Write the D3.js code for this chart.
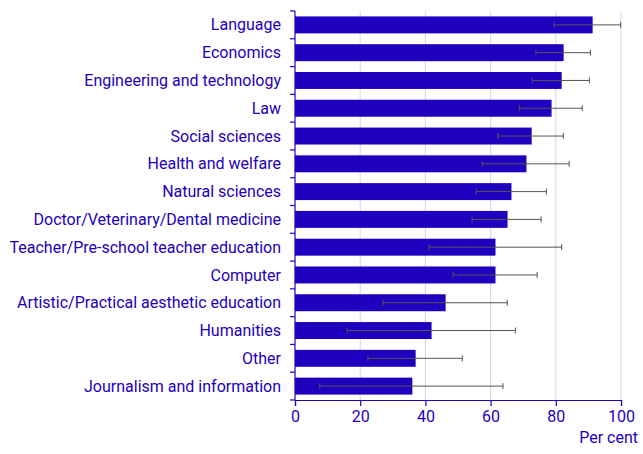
<!DOCTYPE html>
<html>
<head>
<meta charset="utf-8">
<script src="https://cdn.jsdelivr.net/npm/d3@7"></script>
<style>
  body { margin: 0; background: #fff; }
  text { font-family: Roboto, "Noto Sans", sans-serif; }
</style>
</head>
<body>
<div id="chart"></div>
<script>
const WIDTH = 643;
const HEIGHT = 454;
const MARGIN = { top: 11, right: 22, bottom: 54, left: 295 };
const BLUE = "#1e00be";

const categories = [
  "Language", "Economics", "Engineering and technology", "Law",
  "Social sciences", "Health and welfare", "Natural sciences",
  "Doctor/Veterinary/Dental medicine", "Teacher/Pre-school teacher education",
  "Computer", "Artistic/Practical aesthetic education", "Humanities",
  "Other", "Journalism and information"
];
const values = [91.3, 82.4, 81.8, 78.7, 72.6, 71.0, 66.4, 65.2, 61.5, 61.5, 46.2, 41.9, 37.0, 36.0];
const lower = [79.5, 73.9, 72.8, 68.8, 62.2, 57.4, 55.6, 54.3, 41.1, 48.5, 27.0, 16.0, 22.4, 7.6];
const upper = [99.9, 90.6, 90.3, 88.1, 82.3, 84.1, 77.1, 75.5, 81.8, 74.3, 65.1, 67.6, 51.3, 63.8];
const xTicks = [0, 20, 40, 60, 80, 100];

const data = categories.map((c, i) => ({ name: c, value: values[i], lo: lower[i], hi: upper[i] }));

const svg = d3.select("#chart").append("svg")
  .attr("width", WIDTH)
  .attr("height", HEIGHT);

const x = d3.scaleLinear()
  .domain([0, 100])
  .range([MARGIN.left, WIDTH - MARGIN.right]);

const y = d3.scaleBand()
  .domain(categories)
  .range([MARGIN.top, HEIGHT - MARGIN.bottom])
  .paddingInner(0.39)
  .paddingOuter(0.195);

// gridlines
svg.append("g")
  .selectAll("line")
  .data(xTicks.filter(d => d > 0))
  .enter()
  .append("line")
  .attr("x1", d => x(d))
  .attr("x2", d => x(d))
  .attr("y1", MARGIN.top)
  .attr("y2", HEIGHT - MARGIN.bottom)
  .attr("stroke", "#d5d2f0")
  .attr("stroke-width", 1);

// bars
svg.append("g")
  .selectAll("rect")
  .data(data)
  .enter()
  .append("rect")
  .attr("x", x(0))
  .attr("y", d => y(d.name))
  .attr("width", d => x(d.value) - x(0))
  .attr("height", y.bandwidth())
  .attr("fill", BLUE);

// error bars
const err = svg.append("g")
  .attr("stroke", "#555555")
  .attr("stroke-width", 1);
const errG = err.selectAll("g")
  .data(data)
  .enter()
  .append("g")
  .attr("transform", d => `translate(0, ${y(d.name) + y.bandwidth() / 2})`);
errG.append("line")
  .attr("x1", d => x(d.lo))
  .attr("x2", d => x(d.hi));
errG.append("line")
  .attr("x1", d => x(d.lo)).attr("x2", d => x(d.lo))
  .attr("y1", -3).attr("y2", 3);
errG.append("line")
  .attr("x1", d => x(d.hi)).attr("x2", d => x(d.hi))
  .attr("y1", -3).attr("y2", 3);

// y axis: line with ticks at band boundaries
const step = y.step();
const bounds = d3.range(categories.length + 1).map(i => MARGIN.top + i * step);
const yAxisG = svg.append("g");
yAxisG.append("line")
  .attr("x1", x(0)).attr("x2", x(0))
  .attr("y1", MARGIN.top).attr("y2", HEIGHT - MARGIN.bottom)
  .attr("stroke", BLUE).attr("stroke-width", 1.2);
yAxisG.selectAll(".tk")
  .data(bounds)
  .enter()
  .append("line")
  .attr("x1", x(0) - 5).attr("x2", x(0))
  .attr("y1", d => d).attr("y2", d => d)
  .attr("stroke", BLUE).attr("stroke-width", 1.2);
yAxisG.selectAll("text")
  .data(categories)
  .enter()
  .append("text")
  .attr("x", x(0) - 14)
  .attr("y", d => y(d) + y.bandwidth() / 2)
  .attr("dy", "0.35em")
  .attr("text-anchor", "end")
  .attr("fill", BLUE)
  .style("font-size", "16px")
  .text(d => d);

// x axis
const xAxis = d3.axisBottom(x).tickValues(xTicks).tickSize(6).tickPadding(5);
const xAxisG = svg.append("g")
  .attr("transform", `translate(0, ${HEIGHT - MARGIN.bottom})`)
  .call(xAxis);
xAxisG.select(".domain").attr("stroke", BLUE).attr("stroke-width", 1.2);
xAxisG.selectAll(".tick line").attr("stroke", BLUE).attr("stroke-width", 1.2);
xAxisG.selectAll(".tick text")
  .attr("fill", BLUE)
  .style("font-size", "16px")
  .style("font-family", "Roboto, sans-serif");

svg.append("text")
  .attr("x", WIDTH - 5)
  .attr("y", HEIGHT - 11)
  .attr("text-anchor", "end")
  .attr("fill", BLUE)
  .style("font-size", "16px")
  .text("Per cent");
</script>
</body>
</html>
